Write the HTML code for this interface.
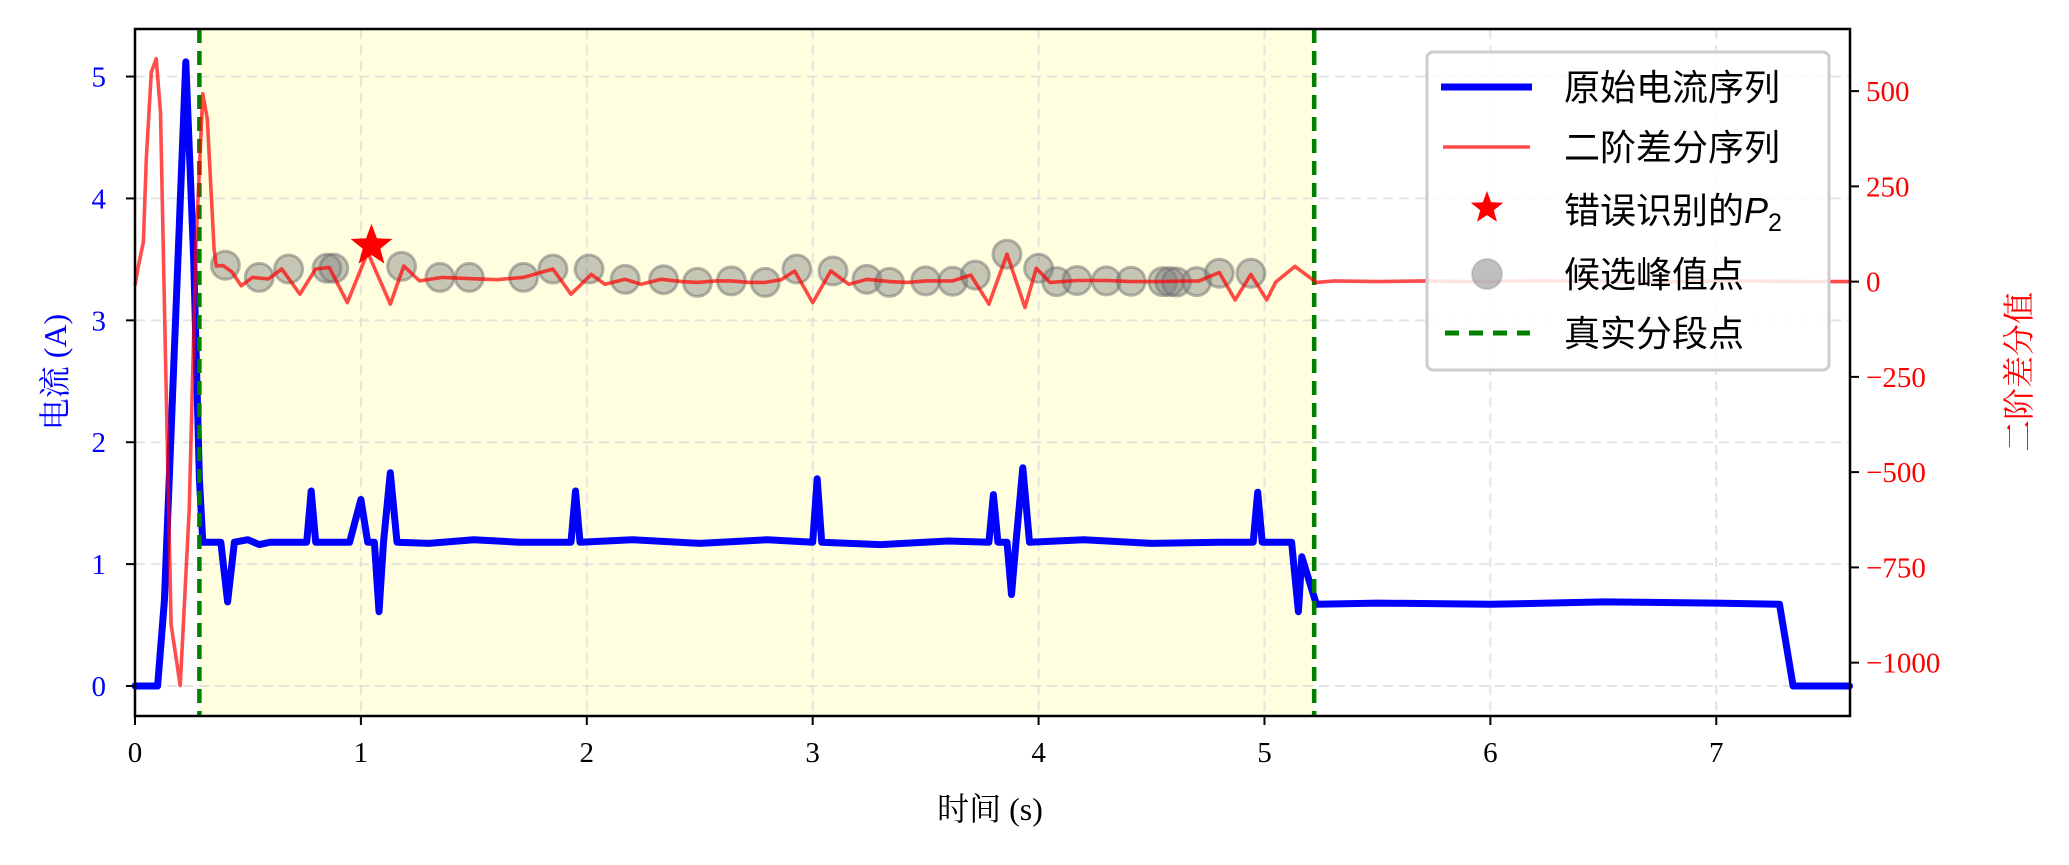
<!DOCTYPE html>
<html><head><meta charset="utf-8">
<style>
html,body{margin:0;padding:0;background:#fff;}
svg{display:block;}
.tick{font-family:"Liberation Serif","Noto Serif CJK SC",serif;font-size:29px;}
</style></head>
<body>
<svg id="chart" width="2069" height="865" viewBox="0 0 2069 865" xmlns="http://www.w3.org/2000/svg"></svg>
<script>
// ---- data ----
const currentT = [0,0.10,0.13,0.225,0.26,0.285,0.30,0.38,0.41,0.44,0.5,0.55,0.6,0.76,0.78,0.80,0.95,1.0,1.03,1.06,1.08,1.10,1.13,1.16,1.3,1.5,1.7,1.93,1.95,1.97,2.2,2.5,2.8,3.00,3.02,3.04,3.3,3.6,3.78,3.80,3.82,3.86,3.88,3.90,3.93,3.96,4.2,4.5,4.8,4.95,4.97,4.99,5.12,5.15,5.165,5.23,5.5,6.0,6.5,7.0,7.28,7.34,7.59];
const currentI = [0,0,0.7,5.12,3.5,1.7,1.18,1.18,0.69,1.18,1.2,1.16,1.18,1.18,1.60,1.18,1.18,1.53,1.18,1.18,0.61,1.18,1.75,1.18,1.17,1.2,1.18,1.18,1.60,1.18,1.2,1.17,1.2,1.18,1.70,1.18,1.16,1.19,1.18,1.57,1.18,1.18,0.75,1.18,1.79,1.18,1.2,1.17,1.18,1.18,1.59,1.18,1.18,0.61,1.06,0.67,0.68,0.67,0.69,0.68,0.67,0,0];
const diffT = [0,.015,.037,.05,.072,.094,.113,.135,.16,.2,.24,.27,.30,.32,.35,.36,.39,.43,.47,.52,.59,.65,.73,.80,.86,.94,1.03,1.13,1.19,1.26,1.36,1.48,1.6,1.72,1.85,1.93,2.02,2.08,2.17,2.24,2.33,2.42,2.49,2.57,2.64,2.72,2.79,2.86,2.92,3.00,3.08,3.16,3.24,3.34,3.42,3.50,3.62,3.70,3.78,3.86,3.94,3.99,4.05,4.17,4.30,4.41,4.55,4.62,4.71,4.80,4.87,4.94,5.01,5.05,5.135,5.23,5.31,5.5,5.7,5.9,6.2,6.5,6.8,7.1,7.4,7.59];
const diffV = [-10,41,104,322,550,585,445,-200,-900,-1060,-600,100,493,427,85,41,42,25,-11,11,7,33,-33,33,37,-55,77,-59,41,2,11,8,5,11,33,-33,19,-7,6,-7,6,0,-2,2,2,-2,-2,5,28,-55,28,-7,6,0,-2,2,2,17,-59,72,-68,35,-2,3,3,0,0,1,2,24,-48,19,-48,-1,40,-2,2,0,2,0,2,1,0,2,0,0];
const candT = [.40,.55,.68,.85,.88,1.18,1.35,1.48,1.72,1.85,2.01,2.17,2.34,2.49,2.64,2.79,2.93,3.09,3.24,3.34,3.50,3.62,3.72,3.86,4.00,4.08,4.17,4.30,4.41,4.55,4.58,4.61,4.70,4.80,4.94];
const candV = [43,11,33,35,35,40,11,11,11,33,33,6,5,-2,2,-2,33,28,6,-2,2,1,17,72,35,0,3,2,1,0,0,-1,0,22,22];
const starT = [1.047];
const starV = [94];
const segT = [0.285, 5.22];
const xTicks = [0,1,2,3,4,5,6,7];
const yLeftTicks = [0,1,2,3,4,5];
const yRightTicks = [500,250,0,-250,-500,-750,-1000];

// ---- axes ----
const L=135,R=1850,T=29,B=716;
const X0=0,X1=7.592, YL0=-0.246, YL1=5.39, YR0=-1140, YR1=663;
const sx=t=>L+(t-X0)/(X1-X0)*(R-L);
const syL=v=>B-(v-YL0)/(YL1-YL0)*(B-T);
const syR=v=>B-(v-YR0)/(YR1-YR0)*(B-T);
const NS="http://www.w3.org/2000/svg";
const svg=document.getElementById('chart');
function mk(tag,attrs,parent){const e=document.createElementNS(NS,tag);for(const k in attrs)e.setAttribute(k,attrs[k]);(parent||svg).appendChild(e);return e;}

// shaded span
let span=mk('rect',{x:sx(segT[0]),y:T,width:sx(segT[1])-sx(segT[0]),height:B-T,fill:'#ffffe0'});



// grid
const grid=mk('g',{stroke:'#d8d8d8','stroke-width':2,'stroke-dasharray':'10,6','stroke-opacity':0.7});


xTicks.forEach(t=>mk('line',{x1:sx(t),x2:sx(t),y1:T,y2:B},grid));
yLeftTicks.forEach(v=>mk('line',{x1:L,x2:R,y1:syL(v),y2:syL(v)},grid));

// blue current
let pb=currentT.map((t,i)=>sx(t).toFixed(1)+','+syL(currentI[i]).toFixed(1)).join(' ');
let cur=mk('polyline',{points:pb,fill:'none',stroke:'#0000ff','stroke-width':7,'stroke-linejoin':'round','stroke-linecap':'round'});



// green dashed
segT.forEach((t,i)=>{
  let l=mk('line',{x1:sx(t),x2:sx(t),y1:T,y2:B,stroke:'#008000','stroke-width':4.5,'stroke-dasharray':'14,8'});
  
  
});

// candidates
candT.forEach((t,i)=>{
  let c=mk('circle',{cx:sx(t),cy:syR(candV[i]),r:14,fill:'#808080','fill-opacity':0.45,stroke:'#707070','stroke-opacity':0.5,'stroke-width':3});
  
  
});

// red diff
let pr=diffT.map((t,i)=>sx(t).toFixed(1)+','+syR(diffV[i]).toFixed(1)).join(' ');
let dif=mk('polyline',{points:pr,fill:'none',stroke:'#ff0000','stroke-opacity':0.7,'stroke-width':3.6,'stroke-linejoin':'round'});



function starPath(cx,cy,r){let p=[];for(let k=0;k<10;k++){const a=-Math.PI/2+k*Math.PI/5;const rr=k%2?r*0.42:r;p.push((cx+rr*Math.cos(a)).toFixed(1)+','+(cy+rr*Math.sin(a)).toFixed(1));}return p.join(' ');}
starT.forEach((t,i)=>{
  let s=mk('polygon',{points:starPath(sx(t),syR(starV[i]),22),fill:'#ff0000'});
  
  
});

// frame
let fr=mk('rect',{x:L,y:T,width:R-L,height:B-T,fill:'none',stroke:'#000','stroke-width':2.5});



// ticks
xTicks.forEach(t=>{
  mk('line',{x1:sx(t),x2:sx(t),y1:B,y2:B+9,stroke:'#000','stroke-width':2});
  let tx=mk('text',{x:sx(t),y:B+46,'text-anchor':'middle',class:'tick',fill:'#000'});tx.textContent=t;
  
  
});
yLeftTicks.forEach(v=>{
  mk('line',{x1:L-9,x2:L,y1:syL(v),y2:syL(v),stroke:'#000','stroke-width':2});
  let tx=mk('text',{x:L-29,y:syL(v)+10,'text-anchor':'end',class:'tick',fill:'#0000ff'});tx.textContent=v;
  
  
});
yRightTicks.forEach(v=>{
  mk('line',{x1:R,x2:R+9,y1:syR(v),y2:syR(v),stroke:'#000','stroke-width':2});
  let tx=mk('text',{x:R+16,y:syR(v)+10,'text-anchor':'start',class:'tick',fill:'#ff0000'});tx.textContent=(v<0?'\u2212'+(-v):v);
  
  
});

// axis titles
let xt=mk('text',{x:990,y:820,'text-anchor':'middle',style:'font-family:"Liberation Serif","Noto Serif CJK SC",serif;font-size:32px',fill:'#000'});xt.textContent='时间 (s)';


let yt=mk('text',{x:0,y:0,'text-anchor':'middle',transform:'translate(66,372) rotate(-90)',style:'font-family:"Liberation Serif","Noto Serif CJK SC",serif;font-size:32px',fill:'#0000ff'});yt.textContent='电流 (A)';


let yr=mk('text',{x:0,y:0,'text-anchor':'middle',transform:'translate(2030,372) rotate(-90)',style:'font-family:"Liberation Serif","Noto Serif CJK SC",serif;font-size:32px',fill:'#ff0000'});yr.textContent='二阶差分值';



// legend
const lg=mk('g',{});


mk('rect',{x:1427,y:52,width:402,height:318,rx:6,fill:'#fff','fill-opacity':0.85,stroke:'#cccccc','stroke-width':3},lg);
const ly=[87,147,210,274,333];
const labs=['原始电流序列','二阶差分序列','错误识别的','候选峰值点','真实分段点'];
mk('line',{x1:1441,x2:1532,y1:ly[0],y2:ly[0],stroke:'#0000ff','stroke-width':7},lg);
mk('line',{x1:1443,x2:1530,y1:ly[1],y2:ly[1],stroke:'#ff0000','stroke-opacity':0.7,'stroke-width':3.5},lg);
mk('polygon',{points:starPath(1487,ly[2]-2,17),fill:'#ff0000'},lg);
mk('circle',{cx:1487,cy:ly[3],r:15,fill:'#808080','fill-opacity':0.5,stroke:'#808080','stroke-opacity':0.3,'stroke-width':2},lg);
mk('line',{x1:1445,x2:1530,y1:ly[4],y2:ly[4],stroke:'#008000','stroke-width':5,'stroke-dasharray':'14,10'},lg);
labs.forEach((s,i)=>{
  let tx=mk('text',{x:1564,y:ly[i]+13,style:'font-family:"Liberation Sans","Noto Sans CJK SC",sans-serif;font-size:36px',fill:'#000'},lg);
  tx.textContent=s;
  if(i===2){
    let p=mk('tspan',{style:'font-style:italic'},tx);p.textContent='P';
    let sub=mk('tspan',{dy:8,style:'font-size:25px'},tx);sub.textContent='2';
  }
  
  
});
</script>
</body></html>
